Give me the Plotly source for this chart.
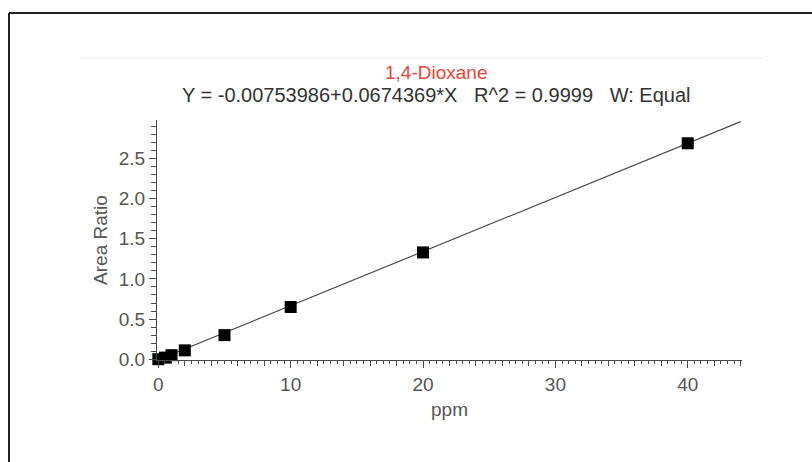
import plotly.graph_objects as go

# Calibration standards for 1,4-Dioxane
conc_ppm = [0, 0.5, 1, 2, 5, 10, 20, 40]
area_ratio = [0.0, 0.02, 0.05, 0.11, 0.30, 0.65, 1.33, 2.69]

# Linear fit reported for the curve
intercept = -0.00753986
slope = 0.0674369
fit_x = [0, 44]
fit_y = [intercept + slope * x for x in fit_x]

compound = "1,4-Dioxane"
equation = "Y = -0.00753986+0.0674369*X   R^2 = 0.9999   W: Equal"

W, H = 812, 462
L, R, T, B = 157, 70, 120, 102
x_range = [-0.1, 44.1]
y_range = [-0.01, 2.98]

pw = W - L - R
ph = H - T - B


def px(xp):
    return (xp - L) / pw


def py(yp):
    return (H - B - yp) / ph


font = "Liberation Sans, Arial, sans-serif"
axis_col = "#4a4a4a"
label_col = "#555555"
fs = 19

fig = go.Figure()

fig.add_trace(go.Scatter(
    x=fit_x, y=fit_y, mode="lines",
    line=dict(color="#4d4d4d", width=1.2),
    hoverinfo="skip", showlegend=False,
))
fig.add_trace(go.Scatter(
    x=conc_ppm, y=area_ratio, mode="markers",
    marker=dict(symbol="square", size=12, color="black"),
    showlegend=False, cliponaxis=False,
))
# overlay axis carrying the medium x ticks every 2 ppm
fig.add_trace(go.Scatter(x=[None], y=[None], xaxis="x2", showlegend=False))

fig.update_layout(
    width=W, height=H,
    margin=dict(l=L, r=R, t=T, b=B),
    paper_bgcolor="white", plot_bgcolor="white",
    font=dict(family=font, size=fs, color=label_col),
    xaxis=dict(
        range=x_range, showgrid=False, zeroline=False,
        showline=True, linecolor=axis_col, linewidth=1.2,
        ticks="outside", tickcolor=axis_col, ticklen=7, tickwidth=1.2,
        dtick=10, tick0=0,
        minor=dict(ticks="outside", dtick=0.5, ticklen=3, tickwidth=1.1,
                   tickcolor=axis_col),
        tickfont=dict(size=fs, color=label_col),
        title=dict(text="ppm", font=dict(size=fs, color=label_col), standoff=8),
    ),
    xaxis2=dict(
        range=x_range, overlaying="x", anchor="y", side="bottom",
        showgrid=False, zeroline=False, showline=False,
        ticks="outside", tickcolor=axis_col, ticklen=5, tickwidth=1.1,
        dtick=2, tick0=0, showticklabels=False,
    ),
    yaxis=dict(
        range=y_range, showgrid=False, zeroline=False,
        showline=True, linecolor=axis_col, linewidth=1.2,
        ticks="outside", tickcolor=axis_col, ticklen=7, tickwidth=1.2,
        dtick=0.5, tick0=0, tickformat=".1f",
        minor=dict(ticks="outside", dtick=0.1, ticklen=5, tickwidth=1.1,
                   tickcolor=axis_col),
        tickfont=dict(size=fs, color=label_col),
        title=dict(text="Area Ratio", font=dict(size=fs, color=label_col), standoff=6),
    ),
    shapes=[
        # outer frame
        dict(type="line", xref="paper", yref="paper",
             x0=px(9), x1=px(W + 5), y0=py(13), y1=py(13),
             line=dict(color="#222222", width=2)),
        dict(type="line", xref="paper", yref="paper",
             x0=px(9), x1=px(9), y0=py(13), y1=py(H + 5),
             line=dict(color="#222222", width=2)),
        # faint separator above the header
        dict(type="line", xref="paper", yref="paper",
             x0=px(79), x1=px(762), y0=py(58), y1=py(58),
             line=dict(color="#ececec", width=1)),
    ],
    annotations=[
        dict(text=compound, xref="paper", yref="paper",
             x=px(436), y=py(72), showarrow=False,
             xanchor="center", yanchor="middle",
             font=dict(family=font, size=fs, color="#e8453c")),
        dict(text=equation.replace("   ", "&nbsp;&nbsp;&nbsp;"),
             xref="paper", yref="paper",
             x=px(436), y=py(95), showarrow=False,
             xanchor="center", yanchor="middle",
             font=dict(family=font, size=fs + 1, color="#333333")),
    ],
)

fig.write_html("out.html")
